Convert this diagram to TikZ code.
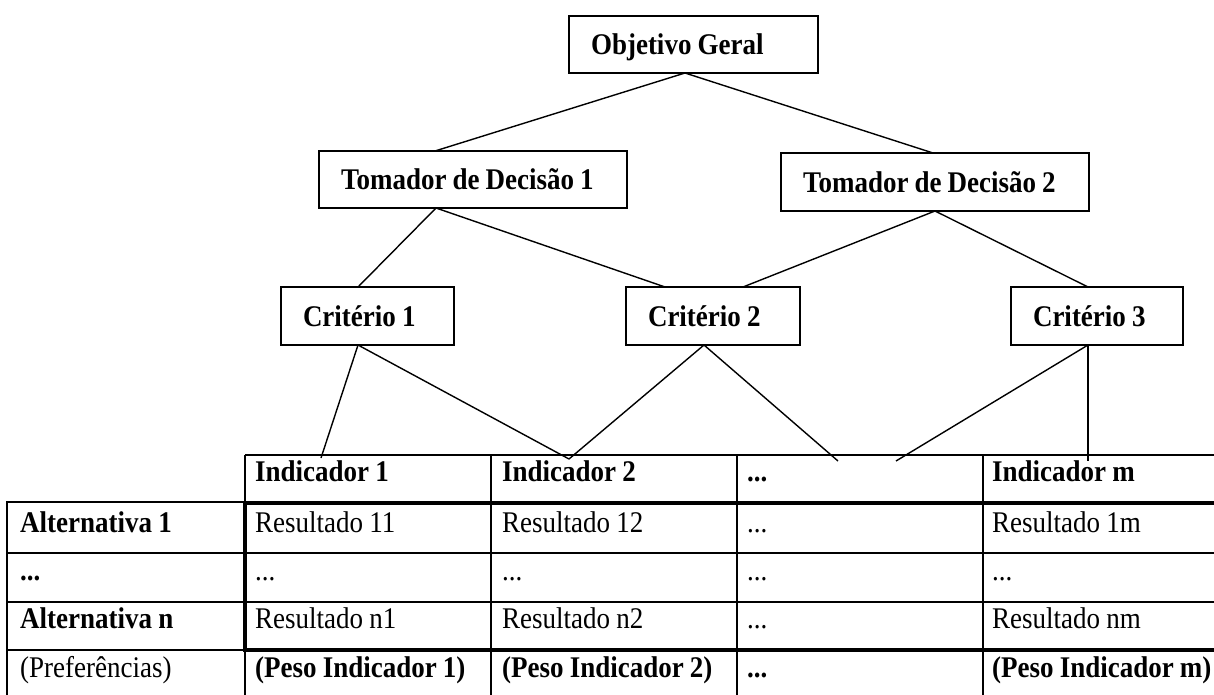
\documentclass[tikz,border=0pt]{standalone}
\usepackage{fontspec}
\setmainfont{Liberation Serif}[FakeStretch=0.9, WordSpace=0.9]
\usetikzlibrary{calc}
\newcommand{\txtsize}{\fontsize{30}{34}\selectfont}
\begin{document}
\begin{tikzpicture}[x=1pt,y=-1pt,
  treebox/.style={draw, line width=1.5pt, rectangle, anchor=north west,
    inner xsep=22pt, inner ysep=0pt, outer sep=0pt, align=flush left,
    font=\txtsize\bfseries, text height=20pt, text depth=0pt,
    execute at begin node={\spaceskip=0pt\xspaceskip=0pt}},
  link/.style={line width=1.4pt},
  gridline/.style={line width=1.5pt},
  heavy/.style={line width=4pt},
  cell/.style={anchor=base west, inner sep=0pt, font=\txtsize},
  cellb/.style={cell, font=\txtsize\bfseries}
]
\useasboundingbox (0,0) rectangle (1214,695);

% ---- hierarchy boxes ----
\node[treebox, text width=205pt, minimum height=57pt] (obj) at (569,16) {Objetivo Geral};
\node[treebox, text width=264pt, minimum height=57pt] (tom1) at (319,151) {Tomador de Decisão 1};
\node[treebox, text width=264pt, minimum height=58pt] (tom2) at (781,153) {Tomador de Decisão 2};
\node[treebox, text width=129pt, minimum height=58pt] (cri1) at (281,287) {Critério 1};
\node[treebox, text width=130pt, minimum height=58pt] (cri2) at (626,287) {Critério 2};
\node[treebox, text width=128pt, minimum height=58pt] (cri3) at (1011,287) {Critério 3};

% ---- attachment points in the indicator header ----
\coordinate (ind1) at (321,458);
\coordinate (ind2) at (569,459);
\coordinate (indl) at (838,461);
\coordinate (indr) at (896,461);
\coordinate (indm) at (1088,461);

% ---- connectors ----
\draw[link] ([xshift=116pt]obj.south west) -- ([xshift=116pt]tom1.north west);
\draw[link] ([xshift=116pt]obj.south west) -- ([xshift=152pt]tom2.north west);
\draw[link] ([xshift=117pt]tom1.south west) -- ([xshift=77pt]cri1.north west);
\draw[link] ([xshift=117pt]tom1.south west) -- ([xshift=39pt]cri2.north west);
\draw[link] ([xshift=154pt]tom2.south west) -- ([xshift=117pt]cri2.north west);
\draw[link] ([xshift=154pt]tom2.south west) -- ([xshift=77pt]cri3.north west);
\draw[link] ([xshift=77pt]cri1.south west) -- (ind1);
\draw[link] ([xshift=77pt]cri1.south west) -- (ind2);
\draw[link] ([xshift=78pt]cri2.south west) -- (ind2);
\draw[link] ([xshift=78pt]cri2.south west) -- (indl);
\draw[link] ([xshift=77pt]cri3.south west) -- (indr);
\draw[link] ([xshift=77pt]cri3.south west) -- (indm);

% ---- table grid ----
\draw[gridline] (245,455) -- (1214,455);
\draw[gridline] (245,455) -- (245,503);
\draw[gridline] (491,455) -- (491,695);
\draw[gridline] (737,455) -- (737,695);
\draw[gridline] (983,455) -- (983,695);
\draw[gridline] (245,502) -- (7,502) -- (7,695);
\draw[gridline] (7,553) -- (1214,553);
\draw[gridline] (7,602) -- (1214,602);
\draw[gridline] (7,650) -- (245,650);
\draw[gridline] (245,650) -- (245,695);
\draw[heavy] (1214,503) -- (245,503) -- (245,650) -- (1214,650);

% ---- header row ----
\node[cellb] (h1) at (255,481) {Indicador 1};
\node[cellb] (h2) at (502,481) {Indicador 2};
\node[cellb] (h3) at (747,481) {...};
\node[cellb] (h4) at (992,481) {Indicador m};

% ---- row labels ----
\node[cellb] (a1) at (20,532) {Alternativa 1};
\node[cellb] (a2) at (20,580) {...};
\node[cellb] (an) at (20,628) {Alternativa n};
\node[cell]  (pr) at (20,677) {(Preferências)};

% ---- results ----
\node[cell] (r11) at (255,532) {Resultado 11};
\node[cell] (r12) at (502,532) {Resultado 12};
\node[cell] (r13) at (747,532) {...};
\node[cell] (r1m) at (992,532) {Resultado 1m};

\node[cell] (r21) at (255,580) {...};
\node[cell] (r22) at (502,580) {...};
\node[cell] (r23) at (747,580) {...};
\node[cell] (r2m) at (992,580) {...};

\node[cell] (rn1) at (255,628) {Resultado n1};
\node[cell] (rn2) at (502,628) {Resultado n2};
\node[cell] (rn3) at (747,628) {...};
\node[cell] (rnm) at (992,628) {Resultado nm};

% ---- weights ----
\node[cellb] (p1) at (255,677) {(Peso Indicador 1)};
\node[cellb] (p2) at (502,677) {(Peso Indicador 2)};
\node[cellb] (p3) at (747,677) {...};
\node[cellb] (pm) at (992,677) {(Peso Indicador m)};
\end{tikzpicture}
\end{document}
